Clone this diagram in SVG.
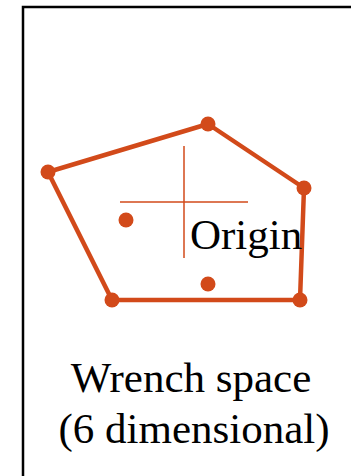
<svg xmlns="http://www.w3.org/2000/svg" width="351" height="476" viewBox="0 0 351 476">
<style>
.edge{stroke:#D24A1A;stroke-width:4.5;fill:none;stroke-linejoin:round}
.axis{stroke:#D24A1A;stroke-width:1.5}
.pt{fill:#D24A1A}
.lbl{font-family:"Liberation Serif",serif;font-size:43px;fill:#000}
</style>
<rect x="23" y="7" width="340" height="480" fill="#fff" stroke="#000" stroke-width="2.5"/>
<g id="connectors">
<polygon class="edge" points="48,172 208,124 304,188 300,300 112,300"/>
<line class="axis" x1="120" y1="202" x2="248" y2="202"/>
<line class="axis" x1="184" y1="146" x2="184" y2="258"/>
</g>
<g id="v1"><circle class="pt" cx="48" cy="172" r="7.5"/></g>
<g id="v2"><circle class="pt" cx="208" cy="124" r="7.5"/></g>
<g id="v3"><circle class="pt" cx="304" cy="188" r="7.5"/></g>
<g id="v4"><circle class="pt" cx="300" cy="300" r="7.5"/></g>
<g id="v5"><circle class="pt" cx="112" cy="300" r="7.5"/></g>
<g id="p1"><circle class="pt" cx="126" cy="220" r="7.5"/></g>
<g id="p2"><circle class="pt" cx="208" cy="284" r="7.5"/></g>
<g id="origin"><text class="lbl" x="190" y="249">Origin</text></g>
<g id="caption">
<text class="lbl" x="191" y="392" text-anchor="middle">Wrench space</text>
<text class="lbl" x="194" y="443" text-anchor="middle">(6 dimensional)</text>
</g>
</svg>
